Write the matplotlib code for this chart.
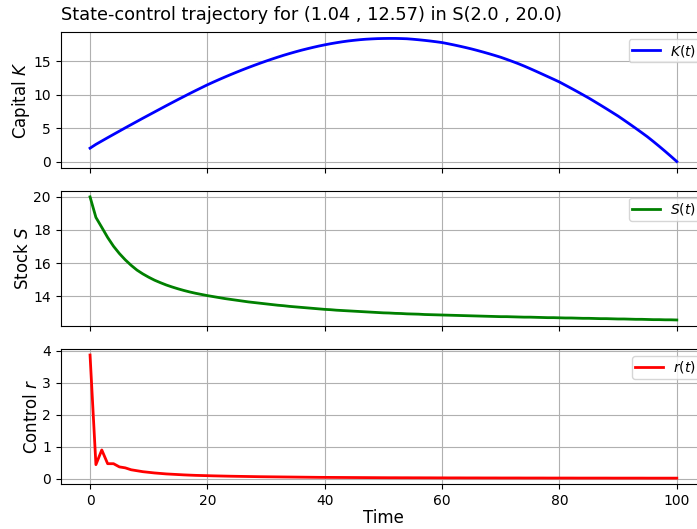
import matplotlib
matplotlib.use("Agg")
import matplotlib.pyplot as plt
import numpy as np

time = list(range(0, 101))

capital_K = [
    2.00, 2.57, 3.07, 3.57, 4.06, 4.55, 5.04, 5.52, 6.00, 6.48,
    6.95, 7.42, 7.89, 8.36, 8.82, 9.28, 9.73, 10.18, 10.62, 11.05,
    11.48, 11.88, 12.27, 12.65, 13.02, 13.38, 13.73, 14.07, 14.40, 14.72,
    15.03, 15.33, 15.62, 15.90, 16.16, 16.41, 16.65, 16.87, 17.08, 17.28,
    17.46, 17.63, 17.78, 17.92, 18.04, 18.14, 18.23, 18.30, 18.35, 18.39,
    18.41, 18.42, 18.42, 18.40, 18.37, 18.30, 18.22, 18.13, 18.03, 17.92,
    17.80, 17.63, 17.45, 17.26, 17.06, 16.85, 16.62, 16.38, 16.13, 15.87,
    15.60, 15.29, 14.97, 14.64, 14.28, 13.90, 13.51, 13.11, 12.71, 12.31,
    11.90, 11.43, 10.96, 10.48, 9.99, 9.50, 8.97, 8.44, 7.90, 7.35,
    6.80, 6.20, 5.59, 4.97, 4.34, 3.70, 3.00, 2.28, 1.54, 0.78,
    0.00,
]

stock_S = [
    20.00, 18.76, 18.16, 17.55, 17.02, 16.58, 16.20, 15.87, 15.58, 15.35,
    15.15, 14.97, 14.82, 14.68, 14.56, 14.45, 14.35, 14.26, 14.18, 14.11,
    14.04, 13.98, 13.92, 13.86, 13.81, 13.76, 13.71, 13.66, 13.62, 13.58,
    13.54, 13.50, 13.46, 13.43, 13.39, 13.36, 13.33, 13.30, 13.27, 13.24,
    13.21, 13.19, 13.16, 13.14, 13.12, 13.10, 13.08, 13.06, 13.04, 13.02,
    13.00, 12.99, 12.97, 12.96, 12.94, 12.93, 12.92, 12.90, 12.89, 12.88,
    12.87, 12.86, 12.85, 12.84, 12.83, 12.82, 12.81, 12.80, 12.79, 12.78,
    12.77, 12.77, 12.76, 12.75, 12.74, 12.74, 12.73, 12.72, 12.71, 12.71,
    12.70, 12.69, 12.69, 12.68, 12.67, 12.67, 12.66, 12.65, 12.65, 12.64,
    12.63, 12.63, 12.62, 12.61, 12.61, 12.60, 12.59, 12.59, 12.58, 12.58,
    12.57,
]

control_r = [
    3.87, 0.44, 0.90, 0.47, 0.47, 0.37, 0.34, 0.28, 0.25, 0.22,
    0.20, 0.18, 0.165, 0.15, 0.14, 0.13, 0.12, 0.112, 0.105, 0.10,
    0.095, 0.090, 0.086, 0.082, 0.078, 0.075, 0.072, 0.069, 0.066, 0.063,
    0.061, 0.059, 0.057, 0.055, 0.053, 0.051, 0.049, 0.047, 0.045, 0.043,
    0.042, 0.041, 0.040, 0.039, 0.038, 0.037, 0.036, 0.035, 0.034, 0.033,
    0.032, 0.031, 0.031, 0.030, 0.030, 0.029, 0.029, 0.028, 0.028, 0.027,
    0.027, 0.026, 0.026, 0.026, 0.025, 0.025, 0.025, 0.024, 0.024, 0.024,
    0.023, 0.023, 0.023, 0.023, 0.022, 0.022, 0.022, 0.022, 0.021, 0.021,
    0.021, 0.021, 0.021, 0.020, 0.020, 0.020, 0.020, 0.020, 0.020, 0.019,
    0.019, 0.019, 0.019, 0.019, 0.019, 0.018, 0.018, 0.018, 0.018, 0.018,
    0.018,
]

K_ticks = [0, 5, 10, 15]
S_ticks = [14, 16, 18, 20]
r_ticks = [0, 1, 2, 3, 4]

title_text = "State-control trajectory for (1.04 , 12.57) in S(2.0 , 20.0)"

fig = plt.figure(figsize=(6.97, 5.29), dpi=100)
left, width, height = 0.0871, 0.926, 0.256
ax1 = fig.add_axes([left, 0.683, width, height])
ax2 = fig.add_axes([left, 0.3835, width, height], sharex=ax1)
ax3 = fig.add_axes([left, 0.0845, width, height], sharex=ax1)

ax1.plot(time, capital_K, color="blue", lw=2, label="$K(t)$")
ax2.plot(time, stock_S, color="green", lw=2, label="$S(t)$")
ax3.plot(time, control_r, color="red", lw=2, label="$r(t)$")

ax1.set_ylabel("Capital $K$", fontsize=12, labelpad=1)
ax2.set_ylabel("Stock $S$", fontsize=12, labelpad=1)
ax3.set_ylabel("Control $r$", fontsize=12, labelpad=1)
ax3.set_xlabel("Time", fontsize=12, labelpad=1)

ax1.set_title(title_text, loc="left", fontsize=12.8, pad=9)

ax1.set_yticks(K_ticks)
ax2.set_yticks(S_ticks)
ax3.set_yticks(r_ticks)

for ax in (ax1, ax2, ax3):
    ax.grid(True)
    ax.legend(loc="upper right", fontsize=10, borderpad=0.25,
              handletextpad=0.7, handlelength=2.0)
ax1.tick_params(labelbottom=False)
ax2.tick_params(labelbottom=False)

fig.savefig("out.png", dpi=100)
